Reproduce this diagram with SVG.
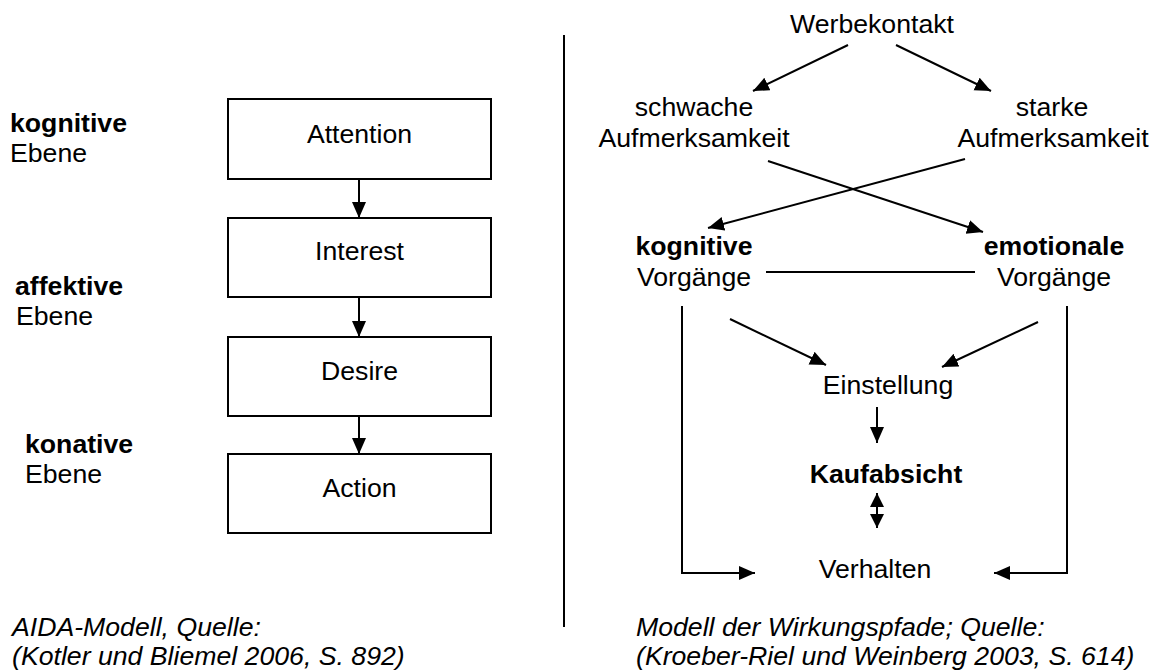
<svg xmlns="http://www.w3.org/2000/svg" width="1154" height="670" viewBox="0 0 1154 670">
<defs>
<style>
text{font-family:"Liberation Sans",Arial,sans-serif;font-size:26.67px;fill:#000}
.b{font-weight:bold}
.i{font-style:italic}
.m{text-anchor:middle}
.box{fill:#fff;stroke:#000;stroke-width:2}
.ln{fill:none;stroke:#000;stroke-width:2}
.ar{fill:none;stroke:#000;stroke-width:2;marker-end:url(#ah)}
</style>
<marker id="ah" markerUnits="userSpaceOnUse" markerWidth="18" markerHeight="16" refX="16" refY="7" orient="auto">
<path d="M0,0 L16,7 L0,14 z" fill="#000"/>
</marker>
<marker id="ahs" markerUnits="userSpaceOnUse" markerWidth="18" markerHeight="16" refX="14" refY="7" orient="auto-start-reverse">
<path d="M0,0 L14,7 L0,14 z" fill="#000"/>
</marker>
</defs>
<rect width="1154" height="670" fill="#fff"/>

<g id="levels">
<text x="10" y="132" class="b">kognitive</text>
<text x="10" y="162">Ebene</text>
<text x="15" y="295" class="b">affektive</text>
<text x="16" y="325">Ebene</text>
<text x="25" y="453" class="b">konative</text>
<text x="25" y="483">Ebene</text>
</g>

<g id="attention"><rect class="box" x="228" y="99" width="263" height="80"/><text x="359.5" y="143" class="m">Attention</text></g>
<g id="interest"><rect class="box" x="228" y="218" width="263" height="79"/><text x="359.5" y="260" class="m">Interest</text></g>
<g id="desire"><rect class="box" x="228" y="337" width="263" height="79"/><text x="359.5" y="380" class="m">Desire</text></g>
<g id="action"><rect class="box" x="228" y="454" width="263" height="79"/><text x="359.5" y="497" class="m">Action</text></g>

<g id="caption-left">
<text x="12" y="636" class="i">AIDA-Modell, Quelle:</text>
<text x="12" y="665" class="i">(Kotler und Bliemel 2006, S. 892)</text>
</g>

<g id="divider"><line class="ln" x1="564" y1="35" x2="564" y2="627"/></g>

<g id="werbekontakt"><text x="872" y="33" class="m">Werbekontakt</text></g>
<g id="schwache"><text x="694" y="116" class="m">schwache</text><text x="694" y="147" class="m">Aufmerksamkeit</text></g>
<g id="starke"><text x="1052" y="116" class="m">starke</text><text x="1053" y="147" class="m">Aufmerksamkeit</text></g>
<g id="kognitiv"><text x="694" y="255" class="m b">kognitive</text><text x="694" y="286" class="m">Vorgänge</text></g>
<g id="emotional"><text x="1054" y="255" class="m b">emotionale</text><text x="1054" y="286" class="m">Vorgänge</text></g>
<g id="einstellung"><text x="888" y="394" class="m">Einstellung</text></g>
<g id="kaufabsicht"><text x="886" y="483" class="m b">Kaufabsicht</text></g>
<g id="verhalten"><text x="875" y="578" class="m">Verhalten</text></g>

<g id="caption-right">
<text x="636" y="636" class="i">Modell der Wirkungspfade; Quelle:</text>
<text x="636" y="665" class="i">(Kroeber-Riel und Weinberg 2003, S. 614)</text>
</g>

<g id="connectors">
<line class="ar" x1="359" y1="179" x2="359" y2="218"/>
<line class="ar" x1="359" y1="297" x2="359" y2="337"/>
<line class="ar" x1="359" y1="416" x2="359" y2="454"/>

<line class="ar" x1="848" y1="45" x2="753" y2="91"/>
<line class="ar" x1="896" y1="45" x2="991" y2="91"/>
<line class="ar" x1="768" y1="161" x2="983" y2="232"/>
<line class="ar" x1="965" y1="159" x2="708" y2="228"/>
<line class="ln" x1="766" y1="272" x2="975" y2="272"/>
<line class="ar" x1="730" y1="319" x2="826" y2="365"/>
<line class="ar" x1="1038" y1="322" x2="942" y2="367"/>
<line class="ar" x1="877" y1="407" x2="877" y2="443"/>
<line class="ln" x1="877" y1="493" x2="877" y2="528" style="marker-start:url(#ahs);marker-end:url(#ahs)"/>
<polyline class="ar" points="682,306 682,573 755,573"/>
<polyline class="ar" points="1067,306 1067,573 994,573"/>
</g>
</svg>
